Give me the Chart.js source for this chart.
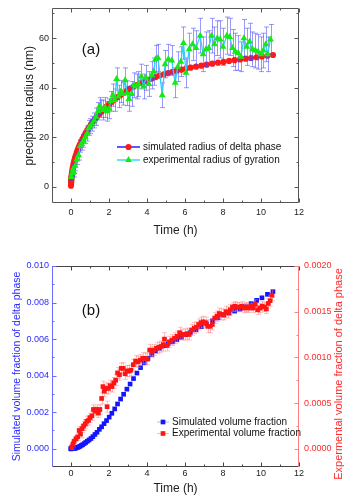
<!DOCTYPE html>
<html>
<head>
<meta charset="utf-8">
<script src="https://cdn.jsdelivr.net/npm/chart.js@4.4.1/dist/chart.umd.min.js"></script>
<style>
  html, body { margin: 0; padding: 0; background: #fff; }
  #boxA { position: absolute; left: 0; top: 0; }
  #boxB { position: absolute; left: 0; top: 250px; }
</style>
</head>
<body>
<canvas id="boxA" width="354" height="250"></canvas>
<canvas id="boxB" width="354" height="251"></canvas>
<script>
// tick labels
const timeTicks = [0, 2, 4, 6, 8, 10, 12];
const radiusTicks = [0, 20, 40, 60];
const simFracTicks = [0, 0.002, 0.004, 0.006, 0.008, 0.010];
const expFracTicks = [0, 0.0005, 0.0010, 0.0015, 0.0020];

// simulated (both panels share the time steps)
const simTime = [0,0.003,0.006,0.01,0.015,0.02,0.03,0.04,0.055,0.07,0.09,0.11,0.14,0.17,0.21,0.25,0.3,0.35,0.41,0.47,
  0.54,0.61,0.69,0.77,0.86,0.95,1.05,1.15,1.26,1.37,1.49,1.61,1.74,1.87,2.01,2.15,2.3,2.45,2.61,2.77,
  2.94,3.11,3.29,3.47,3.66,3.85,4.05,4.25,4.46,4.67,4.89,5.11,5.34,5.57,5.81,6.05,6.3,6.58,6.86,7.14,
  7.44,7.74,8.03,8.32,8.61,8.9,9.19,9.48,9.77,10.05,10.34,10.63];
const simRadius = [0.5,1.2,1.8,2.4,3.0,3.5,4.3,5.0,5.9,6.7,7.6,8.4,9.5,10.5,11.6,12.6,13.8,14.9,16.0,17.1,
  18.3,19.4,20.6,21.7,22.9,24.0,25.1,26.2,27.3,28.4,29.4,30.4,31.4,32.4,33.4,34.3,35.3,36.2,37.1,38.0,
  38.8,39.6,40.4,41.1,41.9,42.5,43.1,43.7,44.3,44.9,45.4,45.9,46.4,46.9,47.3,47.7,48.1,48.5,48.9,49.3,
  49.7,50.1,50.4,50.8,51.1,51.4,51.7,52.0,52.3,52.6,52.9,53.2];
const simFraction = [0,0,0,0,0.000001,0.000001,0.000002,0.000003,0.000005,0.000007,0.00001,0.000013,0.000018,0.000023,0.00003,
  0.00004,0.000055,0.000075,0.0001,0.00013,0.00018,0.00022,0.00028,0.00034,0.00041,0.00048,0.00056,0.00066,0.00078,0.0009,
  0.00106,0.0012,0.00137,0.00154,0.00173,0.00194,0.00218,0.00245,0.00272,0.00298,0.00326,0.00354,0.00384,0.00414,0.00444,
  0.0047,0.00494,0.00516,0.00535,0.0055,0.00563,0.00575,0.00585,0.00597,0.0061,0.00624,0.00637,0.00652,0.00668,0.00683,
  0.007,0.00716,0.00731,0.00742,0.00753,0.00764,0.00777,0.00795,0.00812,0.00826,0.00845,0.0086];

// experimental (a)
const expTimeA = [0.02,0.06,0.1,0.15,0.22,0.3,0.4,0.48,0.56,0.65,0.75,0.85,0.93,1.02,1.12,1.22,1.32,1.42,1.5,1.6,
  1.7,1.8,1.9,2.0,2.1,2.2,2.3,2.4,2.5,2.62,2.72,2.85,2.95,3.05,3.2,3.32,3.45,3.55,3.7,3.82,
  3.95,4.1,4.25,4.35,4.45,4.58,4.8,4.95,5.12,5.3,5.48,5.62,5.78,5.92,6.05,6.22,6.4,6.58,6.8,6.95,
  7.1,7.25,7.4,7.55,7.7,7.85,8.0,8.2,8.35,8.5,8.65,8.8,8.95,9.1,9.25,9.4,9.55,9.7,9.85,10.0,
  10.12,10.25,10.35,10.5];
const expRadius = [4.0,5.5,7.0,6.0,8.5,11.0,12.8,16.5,17.3,18.5,20.0,21.5,23.8,24.5,25.5,26.8,28.3,30.5,32.5,31.5,
  31.0,32.0,30.5,31.5,34.5,37.0,35.0,43.5,36.5,38.5,37.5,43.0,37.8,35.5,37.5,41.0,40.5,41.5,44.5,40.5,
  44.0,41.5,45.0,46.5,51.5,52.0,37.0,49.5,51.5,51.0,42.0,48.5,50.5,58.0,46.0,55.5,57.5,56.0,61.0,53.5,
  55.5,56.0,61.0,57.5,60.0,59.5,56.5,61.0,60.5,56.0,54.5,54.0,52.5,60.0,56.5,58.5,55.5,55.0,54.5,53.5,
  55.0,57.5,53.5,59.5];
const expRadiusErr = [1.5,1.5,2,2,2,2,2,2.5,2.5,2.5,2.5,3,3,3,3,3,3.5,3.5,3.5,3.5,
  4,4,4,4,4,4.5,4.5,4.5,4.5,4.5,4.5,5,5,5,5,5,5,5,5,5,
  5,5,5.5,5.5,5.5,5.5,5,5.5,6,6,6,6,6,6.5,6,6.5,6.5,7,7,7,
  7,7,7,7,7,7.5,7.5,7.5,7.5,7.5,7.5,7,6,7.5,7.5,7.5,7,7,7,7,
  7,7,7,6];

// experimental (b)
const expTimeB = [0.04,0.1,0.16,0.26,0.35,0.43,0.5,0.58,0.66,0.75,0.83,0.92,1.0,1.1,1.18,1.27,1.35,1.44,1.52,1.61,
  1.68,1.75,1.82,1.9,1.97,2.05,2.15,2.25,2.35,2.45,2.55,2.65,2.75,2.85,2.95,3.05,3.15,3.28,3.4,3.52,
  3.65,3.78,3.9,4.02,4.14,4.26,4.38,4.5,4.62,4.74,4.85,4.92,5.05,5.18,5.32,5.45,5.58,5.72,5.85,5.98,
  6.1,6.22,6.35,6.48,6.6,6.72,6.84,6.96,7.08,7.2,7.32,7.44,7.56,7.68,7.8,7.92,8.04,8.15,8.27,8.38,
  8.5,8.62,8.74,8.86,8.98,9.1,9.22,9.34,9.46,9.58,9.7,9.82,9.94,10.06,10.18,10.28,10.38,10.48,10.58];
const expFraction = [0.00002,0.00005,0.00008,0.00011,0.00013,0.0002,0.00016,0.00022,0.00025,0.00027,
  0.0003,0.00031,0.00034,0.00036,0.00043,0.00041,0.00043,0.00039,0.00043,0.00055,
  0.00068,0.00063,0.00066,0.00046,0.00066,0.00069,0.00068,0.00072,0.00075,0.00083,
  0.00081,0.00088,0.00088,0.00082,0.00085,0.00085,0.00086,0.00092,0.00096,0.00095,
  0.00097,0.00099,0.00099,0.00098,0.00108,0.00106,0.00108,0.0011,0.00111,0.00112,
  0.00114,0.0012,0.00113,0.00117,0.00119,0.00121,0.00123,0.00127,0.00125,0.00125,
  0.00126,0.00125,0.0013,0.00132,0.00133,0.00136,0.00138,0.00139,0.00138,0.00134,
  0.00134,0.00136,0.00143,0.00145,0.00148,0.00147,0.00147,0.0015,0.00149,0.00152,
  0.00155,0.00156,0.00155,0.00155,0.00156,0.00154,0.00155,0.00154,0.00156,0.00154,
  0.00158,0.00152,0.00154,0.00156,0.00155,0.00153,0.00159,0.00162,0.00168];
const expFractionErr = [0.00003,0.00003,0.00003,0.00003,0.00004,0.00004,0.00004,0.00004,0.00005,0.00005,
  0.00005,0.00005,0.00005,0.00005,0.00005,0.00005,0.00005,0.00005,0.00005,0.00006,
  0.00006,0.00006,0.00006,0.00006,0.00006,0.00006,0.00006,0.00006,0.00006,0.00006,
  0.00006,0.00006,0.00006,0.00006,0.00006,0.00006,0.00006,0.00006,0.00006,0.00006,
  0.00006,0.00006,0.00006,0.00006,0.00006,0.00006,0.00006,0.00006,0.00006,0.00006,
  0.00007,0.00007,0.00006,0.00006,0.00006,0.00006,0.00006,0.00006,0.00006,0.00006,
  0.00006,0.00006,0.00006,0.00006,0.00006,0.00006,0.00006,0.00006,0.00006,0.00007,
  0.00007,0.00006,0.00006,0.00006,0.00006,0.00006,0.00006,0.00006,0.00006,0.00006,
  0.00005,0.00005,0.00005,0.00005,0.00005,0.00005,0.00005,0.00005,0.00005,0.00005,
  0.00005,0.00005,0.00005,0.00005,0.00005,0.00005,0.00005,0.00006,0.00006];

const FONT = '"Liberation Sans", Arial, sans-serif';

function pts(xs, ys) {
  return xs.map((x, i) => ({ x: x, y: ys[i] }));
}

function minorTicks(majors, lo, hi) {
  const step = majors[1] - majors[0];
  const out = [];
  for (let k = -4; k < majors.length + 4; k++) {
    const v = majors[0] + (k + 0.5) * step;
    if (v > lo && v < hi) out.push(v);
  }
  return out;
}

function setTicks(list) {
  return scale => { scale.ticks = list.map(v => ({ value: v })); };
}

// error bars drawn just before the dataset they belong to
function errorBars(index, errs, color, cap) {
  return {
    id: 'errorBars' + index,
    beforeDatasetDraw(chart, args) {
      if (args.index !== index) return;
      const meta = args.meta;
      const xs = chart.scales[meta.xAxisID], ys = chart.scales[meta.yAxisID];
      const ctx = chart.ctx;
      ctx.save();
      ctx.strokeStyle = color;
      ctx.lineWidth = 1;
      chart.data.datasets[index].data.forEach((p, i) => {
        const x = Math.round(xs.getPixelForValue(p.x)) + 0.5;
        const y1 = ys.getPixelForValue(p.y - errs[i]);
        const y2 = ys.getPixelForValue(p.y + errs[i]);
        ctx.beginPath();
        ctx.moveTo(x, y1); ctx.lineTo(x, y2);
        ctx.moveTo(x - cap, y1); ctx.lineTo(x + cap, y1);
        ctx.moveTo(x - cap, y2); ctx.lineTo(x + cap, y2);
        ctx.stroke();
      });
      ctx.restore();
    }
  };
}

// box frame with inward ticks, like the original plotting program
function frame(sides) {
  return {
    id: 'frame',
    afterDatasetsDraw(chart) {
      const { ctx, chartArea: a } = chart;
      const L = Math.round(a.left) + 0.5, R = Math.round(a.right) - 0.5;
      const T = Math.round(a.top) + 0.5, B = Math.round(a.bottom) - 0.5;
      ctx.save();
      ctx.lineWidth = 1;
      sides.forEach(s => {
        const sc = chart.scales[s.scale];
        const marks = s.major.map(v => [v, 4]).concat(minorTicks(s.major, sc.min, sc.max).map(v => [v, 2]));
        ctx.strokeStyle = s.color;
        ctx.beginPath();
        if (s.pos === 'bottom') { ctx.moveTo(L, B); ctx.lineTo(R, B); }
        if (s.pos === 'top') { ctx.moveTo(L, T); ctx.lineTo(R, T); }
        if (s.pos === 'left') { ctx.moveTo(L, T); ctx.lineTo(L, B); }
        if (s.pos === 'right') { ctx.moveTo(R, T); ctx.lineTo(R, B); }
        marks.forEach(m => {
          const p = Math.round(sc.getPixelForValue(m[0])) + 0.5;
          const len = m[1];
          if (s.pos === 'bottom') { ctx.moveTo(p, B); ctx.lineTo(p, B - len); }
          if (s.pos === 'top') { ctx.moveTo(p, T); ctx.lineTo(p, T + len); }
          if (s.pos === 'left') { ctx.moveTo(L, p); ctx.lineTo(L + len, p); }
          if (s.pos === 'right') { ctx.moveTo(R, p); ctx.lineTo(R - len, p); }
        });
        ctx.stroke();
      });
      ctx.restore();
    }
  };
}

function marker(ctx, style, x, y, r, fill) {
  ctx.fillStyle = fill;
  ctx.beginPath();
  if (style === 'circle') {
    ctx.arc(x, y, r, 0, Math.PI * 2);
  } else if (style === 'triangle') {
    ctx.moveTo(x, y - r);
    ctx.lineTo(x + r * 0.866, y + r * 0.5);
    ctx.lineTo(x - r * 0.866, y + r * 0.5);
    ctx.closePath();
  } else {
    const h = r * Math.SQRT1_2;
    ctx.rect(x - h, y - h, 2 * h, 2 * h);
  }
  ctx.fill();
}

// legend inside the plot, panel tag and (optionally) a bottom-to-top right title
function legendBox(items, tag, sideTitle) {
  return {
    id: 'legendBox',
    afterDraw(chart) {
      const ctx = chart.ctx;
      ctx.save();
      items.forEach(it => {
        ctx.strokeStyle = it.line;
        ctx.lineWidth = it.lw;
        ctx.beginPath();
        ctx.moveTo(it.x0, it.y); ctx.lineTo(it.x1, it.y);
        ctx.stroke();
        const ds = chart.data.datasets[it.ds];
        marker(ctx, ds.pointStyle, (it.x0 + it.x1) / 2, it.y, ds.pointRadius, ds.pointBackgroundColor);
        ctx.fillStyle = '#111';
        ctx.font = '10px ' + FONT;
        ctx.textBaseline = 'middle';
        ctx.textAlign = 'left';
        ctx.fillText(ds.label, it.x1 + 3, it.y);
      });
      ctx.fillStyle = '#111';
      ctx.font = '15px ' + FONT;
      ctx.textAlign = 'center';
      ctx.textBaseline = 'middle';
      ctx.fillText(tag.text, tag.x, tag.y);
      if (sideTitle) {
        ctx.translate(sideTitle.x, sideTitle.y);
        ctx.rotate(-Math.PI / 2);
        ctx.fillStyle = sideTitle.color;
        ctx.font = sideTitle.size + 'px ' + FONT;
        ctx.fillText(sideTitle.text, 0, 0);
      }
      ctx.restore();
    }
  };
}

const tickFont = { family: FONT, size: 9 };
const titleFont = { family: FONT, size: 12 };
const noGrid = { display: false, drawTicks: false };

// ---------- panel (a) ----------
new Chart(document.getElementById('boxA'), {
  type: 'scatter',
  data: {
    datasets: [
      {
        label: 'simulated radius of delta phase',
        data: pts(simTime, simRadius),
        showLine: true,
        borderColor: '#2323ff',
        borderWidth: 1.3,
        pointStyle: 'circle',
        pointRadius: 3.1,
        pointBackgroundColor: '#ff1a1a',
        pointBorderWidth: 0,
        order: 1
      },
      {
        label: 'experimental radius of gyration',
        data: pts(expTimeA, expRadius),
        showLine: true,
        borderColor: '#33ccff',
        borderWidth: 1.3,
        pointStyle: 'triangle',
        pointRadius: 4,
        pointBackgroundColor: '#14ea14',
        pointBorderWidth: 0,
        order: 0
      }
    ]
  },
  options: {
    responsive: false,
    animation: false,
    layout: { padding: { top: 6, right: 55, left: 0, bottom: 0 } },
    plugins: { legend: { display: false }, tooltip: { enabled: false } },
    scales: {
      x: {
        type: 'linear', min: -1, max: 12,
        afterBuildTicks: setTicks(timeTicks),
        afterFit: s => { s.height = 47; },
        grid: noGrid, border: { display: false },
        ticks: { font: tickFont, color: '#222', padding: 4, maxRotation: 0 },
        title: { display: true, text: 'Time (h)', font: titleFont, color: '#222', padding: { top: 0, bottom: 12 } }
      },
      y: {
        type: 'linear', min: -6.5, max: 72,
        afterBuildTicks: setTicks(radiusTicks),
        afterFit: s => { s.width = 52; },
        grid: noGrid, border: { display: false },
        ticks: { font: tickFont, color: '#222', padding: 3 },
        title: { display: true, text: 'precipitate radius (nm)', font: titleFont, color: '#222', padding: { top: 22, bottom: 0 } }
      }
    }
  },
  plugins: [
    errorBars(1, expRadiusErr, 'rgba(70,70,255,0.55)', 2.5),
    frame([
      { pos: 'bottom', scale: 'x', major: timeTicks, color: '#555' },
      { pos: 'top', scale: 'x', major: timeTicks, color: '#555' },
      { pos: 'left', scale: 'y', major: radiusTicks, color: '#555' },
      { pos: 'right', scale: 'y', major: radiusTicks, color: '#555' }
    ]),
    legendBox([
      { ds: 0, x0: 117, x1: 140, y: 147, line: '#2323ff', lw: 1.5 },
      { ds: 1, x0: 117, x1: 140, y: 160, line: '#33ddff', lw: 1.5 }
    ], { text: '(a)', x: 91, y: 50 })
  ]
});

// ---------- panel (b) ----------
new Chart(document.getElementById('boxB'), {
  type: 'scatter',
  data: {
    datasets: [
      {
        label: 'Simulated volume fraction',
        data: pts(simTime, simFraction),
        yAxisID: 'y',
        pointStyle: 'rect',
        pointRadius: 3.3,
        pointBackgroundColor: '#1414ff',
        pointBorderWidth: 0,
        order: 1
      },
      {
        label: 'Experimental volume fraction',
        data: pts(expTimeB, expFraction),
        yAxisID: 'y2',
        pointStyle: 'rect',
        pointRadius: 3.3,
        pointBackgroundColor: '#ff1414',
        pointBorderWidth: 0,
        order: 0
      }
    ]
  },
  options: {
    responsive: false,
    animation: false,
    layout: { padding: { top: 16, right: 0, left: 0, bottom: 0 } },
    plugins: { legend: { display: false }, tooltip: { enabled: false } },
    scales: {
      x: {
        type: 'linear', min: -1, max: 12,
        afterBuildTicks: setTicks(timeTicks),
        afterFit: s => { s.height = 34; },
        grid: noGrid, border: { display: false },
        ticks: { font: tickFont, color: '#222', padding: 1, maxRotation: 0 },
        title: { display: true, text: 'Time (h)', font: titleFont, color: '#222', padding: { top: 0, bottom: 5 } }
      },
      y: {
        type: 'linear', position: 'left', min: -0.001, max: 0.010,
        afterBuildTicks: setTicks(simFracTicks),
        afterFit: s => { s.width = 52; },
        grid: noGrid, border: { display: false },
        ticks: { font: tickFont, color: '#2a2aff', padding: 3, callback: v => v.toFixed(3) },
        title: { display: true, text: 'Simulated volume fraction of delta phase', font: { family: FONT, size: 10.5 }, color: '#2a2aff', padding: { top: 11, bottom: 0 } }
      },
      y2: {
        type: 'linear', position: 'right', min: -0.0002, max: 0.002,
        afterBuildTicks: setTicks(expFracTicks),
        afterFit: s => { s.width = 55; },
        grid: noGrid, border: { display: false },
        ticks: { font: tickFont, color: '#ff2a2a', padding: 5, callback: v => v.toFixed(4) },
        title: { display: false }
      }
    }
  },
  plugins: [
    errorBars(1, expFractionErr, 'rgba(255,120,120,0.45)', 2.5),
    frame([
      { pos: 'bottom', scale: 'x', major: timeTicks, color: '#444' },
      { pos: 'top', scale: 'x', major: timeTicks, color: '#444' },
      { pos: 'left', scale: 'y', major: simFracTicks, color: '#6b6bff' },
      { pos: 'right', scale: 'y2', major: expFracTicks, color: '#ff8080' }
    ]),
    legendBox([
      { ds: 0, x0: 157, x1: 169, y: 172, line: 'rgba(120,120,200,0.5)', lw: 1 },
      { ds: 1, x0: 157, x1: 169, y: 183.5, line: 'rgba(255,140,140,0.6)', lw: 1 }
    ], { text: '(b)', x: 91, y: 61 },
    { text: 'Expermental volume fraction of delta phase', x: 339, y: 124, size: 11, color: '#ff2a2a' })
  ]
});
</script>
</body>
</html>
